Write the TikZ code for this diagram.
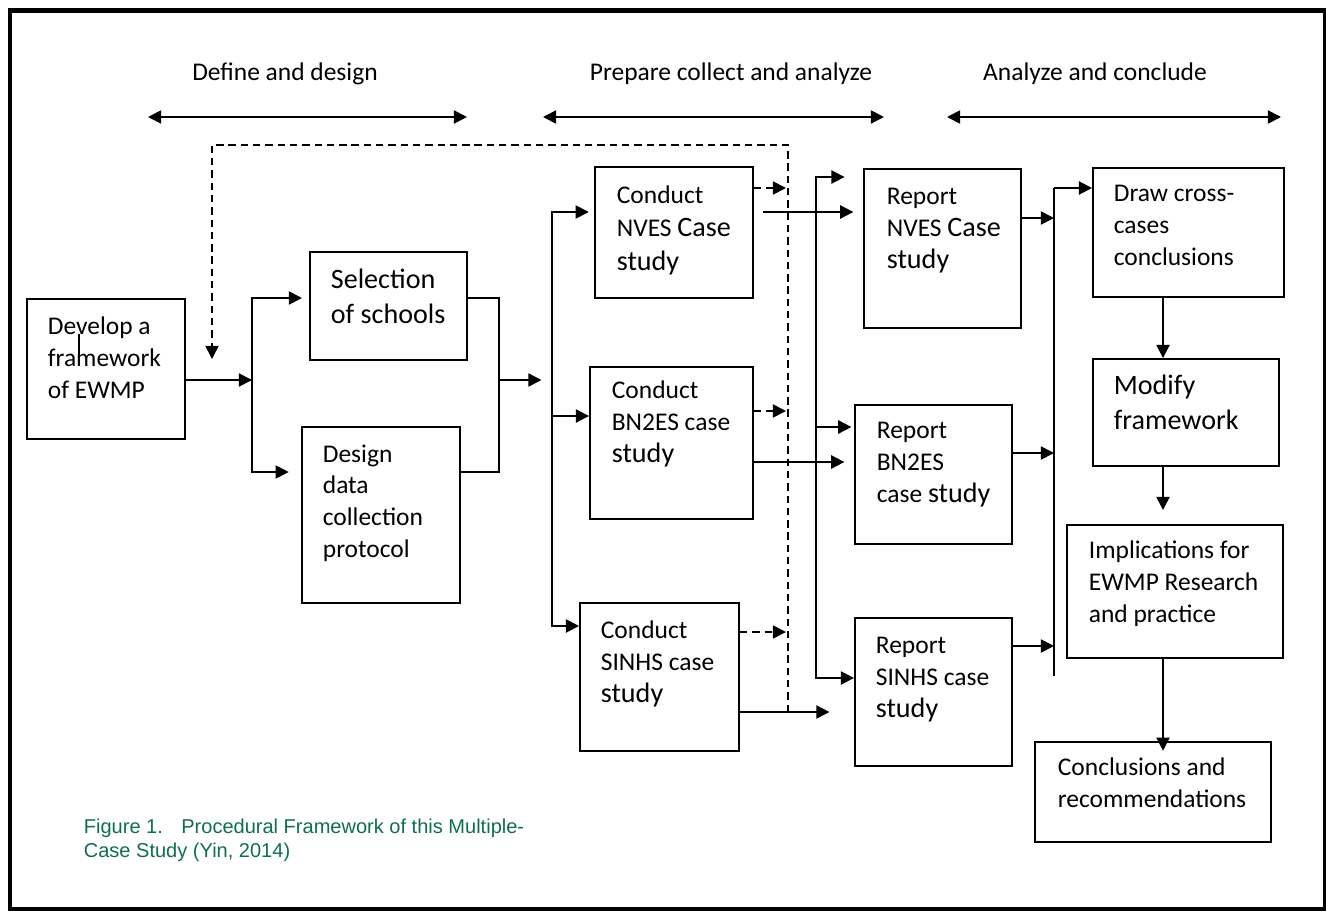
\documentclass[tikz,border=0pt]{standalone}
\usepackage{fontspec}
\setmainfont{Carlito}
\newfontfamily\capfont{Liberation Sans}
\usetikzlibrary{arrows.meta,fit}
\definecolor{capgreen}{RGB}{16,110,80}
\newcommand\lrg{\fontsize{16}{19.5}\selectfont}

\begin{document}
\begin{tikzpicture}[x=0.02cm,y=-0.02cm,>={Triangle[length=7.5pt,width=7.5pt]},line width=1pt,
blk/.style={draw,line width=1.1pt,inner sep=0pt},
txt/.style={inner sep=0pt,anchor=base west,align=left,font=\fontsize{14.5}{18}\selectfont},
dsh/.style={dashed,dash pattern=on 4.2pt off 2.8pt}]
\useasboundingbox (0,0) rectangle (1326,910);
\draw[line width=2.8pt] (10,10.5) rectangle (1325,909);

% phases and their spans
\foreach \a/\b/\c/\t/\n in {148/467/285/Define and design/A,543/884/731/Prepare collect and analyze/B,947/1281/1095/Analyze and conclude/C}{
  \node[txt,anchor=base] (hd\n) at (\c,80) {\t};
  \coordinate (ph\n L) at (\a,117);
  \coordinate (ph\n R) at (\b,117);
  \draw[<->] (ph\n L) -- (ph\n R);
}

% boxes
\node[blk,fit={(27,299) (185,439)}] (dev) {};
\node[blk,fit={(310,252) (467,360)}] (sel) {};
\node[blk,fit={(302,427) (460,603)}] (des) {};
\node[blk,fit={(595,167) (753,298)}] (cNV) {};
\node[blk,fit={(590,367) (753,519)}] (cBN) {};
\node[blk,fit={(580,603) (739,751)}] (cSI) {};
\node[blk,fit={(864,169) (1021,328)}] (rNV) {};
\node[blk,fit={(855,405) (1012,544)}] (rBN) {};
\node[blk,fit={(855,618) (1012,766)}] (rSI) {};
\node[blk,fit={(1093,168) (1284,297)}] (xcs) {};
\node[blk,fit={(1093,359) (1279,466)}] (mod) {};
\node[blk,fit={(1067,525) (1283,658)}] (imp) {};
\node[blk,fit={(1035,742) (1271,842)}] (con) {};

% box texts (placed by the baseline of their last line)
\node[txt] (devT) at (47,398) {Develop a\\framework\\of EWMP};
\draw[line width=.6pt] (79,334) -- (79,355); % caret
\node[txt,font=\lrg] (selT) at (330,323) {Selection\\of schools};
\node[txt] (desT) at (322,557) {Design\\data\\collection\\protocol};
\node[txt,font=\fontsize{14.5}{19}\selectfont] (cNVT) at (616,270) {Conduct\\NVES {\lrg Case}\\{\lrg study}};
\node[txt] (cBNT) at (611,462) {Conduct\\BN2ES case\\{\lrg study}};
\node[txt] (cSIT) at (600,702) {Conduct\\SINHS case\\{\lrg study}};
\node[txt] (rNVT) at (886,268) {Report\\NVES {\lrg Case}\\{\lrg study}};
\node[txt] (rBNT) at (876,502) {Report\\BN2ES\\case {\lrg study}};
\node[txt] (rSIT) at (875,717) {Report\\SINHS case\\{\lrg study}};
\node[txt] (xcsT) at (1113,265) {Draw cross-\\cases\\conclusions};
\node[txt,font=\lrg] (modT) at (1113,429) {Modify\\framework};
\node[txt] (impT) at (1088,622) {Implications for\\EWMP Research\\and practice};
\node[txt] (conT) at (1057,807) {Conclusions and\\recommendations};

\node[txt,font=\capfont\fontsize{11.4}{13.6}\selectfont,text=capgreen] (cap) at (83,857)
  {Figure 1.\hspace{10.5pt}Procedural Framework of this Multiple-\\Case Study (Yin, 2014)};

% fork after the framework
\coordinate (fkA) at (252,298);
\coordinate (fkM) at (252,380);
\coordinate (fkB) at (252,472);
\draw[->] (dev.east |- fkM) -- (fkM);
\draw[->,shorten >=4pt] (fkB) |- (sel.west |- fkA);
\draw[->,shorten >=7pt] (fkA) |- (des.west |- fkB);

% merge into the three cases
\coordinate (mgA) at (499,298);
\coordinate (mgM) at (499,380);
\coordinate (mgB) at (499,472);
\draw (sel.east |- mgA) -| (mgB) -- (des.east |- mgB);
\coordinate (cfA) at (552,212);
\coordinate (cfM) at (552,380);
\coordinate (cfB) at (552,416);
\coordinate (cfC) at (552,626);
\draw[->,shorten >=6pt] (mgM) -- (cfM);
\draw[->,shorten >=3pt] (cfC) |- (cNV.west |- cfA);
\draw[->] (cfA) |- (cSI.west |- cfC);
\draw[->] (cfB) -- (cBN.west |- cfB);

% dashed feedback
\coordinate (dsA) at (786,188);
\coordinate (dsB) at (786,411);
\coordinate (dsC) at (786,632);
\draw[dsh,->] (cNV.east |- dsA) -- (dsA);
\draw[dsh,->] (cBN.east |- dsB) -- (dsB);
\draw[dsh,->] (cSI.east |- dsC) -- (dsC);
\coordinate (fbS) at (788,712);
\coordinate (fbL) at (212,145);
\coordinate (fbE) at (212,359);
\draw[dsh,->] (fbS) |- (fbL) -- (fbE);

% case outputs
\coordinate (oA) at (808,212);
\coordinate (oB) at (808,462);
\draw[->,shorten <=5pt,shorten >=5.5pt] (cNV.east |- oA) -- (rNV.west |- oA);
\draw[->,shorten >=5.5pt] (cBN.east |- oB) -- (rBN.west |- oB);
\draw[->,shorten >=14pt] (cSI.east |- fbS) -- (rSI.west |- fbS);

\coordinate (sfA) at (816,177);
\coordinate (sfB) at (816,427);
\coordinate (sfC) at (816,678);
\draw[->,shorten >=10.5pt] (sfC) |- (rNV.west |- sfA);
\draw[->] (sfA) |- (rSI.west |- sfC);
\draw[->,shorten >=1.5pt] (sfB) -- (rBN.west |- sfB);

% reports gathered
\coordinate (gA) at (1054,188);
\coordinate (gN) at (1054,218);
\coordinate (gB) at (1054,453);
\coordinate (gC) at (1054,646);
\coordinate (gE) at (1054,676);
\draw (gE) -- (gA);
\draw[->] (gA) -- (xcs.west |- gA);
\draw[->] (rNV.east |- gN) -- (gN);
\draw[->] (rBN.east |- gB) -- (gB);
\draw[->] (rSI.east |- gC) -- (gC);

% conclusions column
\coordinate (rc) at (1163,0);
\draw[->] (rc |- xcs.south) -- (rc |- mod.north);
\draw[->,shorten >=8pt] (rc |- mod.south) -- (rc |- imp.north);
\draw[->,shorten >=-5.5pt] (rc |- imp.south) -- (rc |- con.north);

\end{tikzpicture}
\end{document}
